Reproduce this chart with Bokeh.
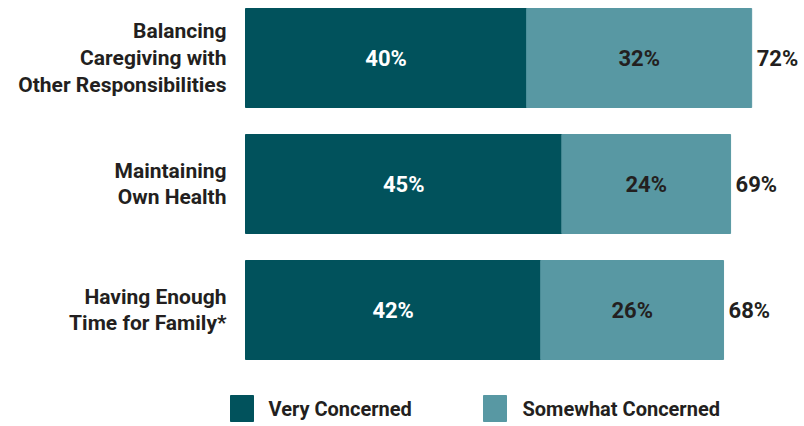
from bokeh.plotting import figure
from bokeh.models import Range1d, ColumnDataSource
from bokeh.core.properties import value
from bokeh.embed import file_html
from bokeh.resources import INLINE

categories = ["Balancing\nCaregiving with\nOther Responsibilities",
              "Maintaining\nOwn Health",
              "Having Enough\nTime for Family*"]
very = [40, 45, 42]
somewhat = [32, 24, 26]
series_names = ["Very Concerned", "Somewhat Concerned"]
colors = ["#01525C", "#5898A3"]
TEXT = "#231F20"
FONT = value("Roboto")

W, H = 804, 426
px_per = 7.03
x0_img = 245
pitch = 126.0
c0 = 57.5

p = figure(width=W, height=H, output_backend="svg", toolbar_location=None,
           x_range=Range1d(-x0_img / px_per, (W - x0_img) / px_per),
           y_range=Range1d((H - c0) / pitch, -c0 / pitch),
           min_border=0, outline_line_color=None)
p.axis.visible = False
p.grid.visible = False
p.background_fill_color = "white"
p.border_fill_color = "white"

idx = list(range(len(categories)))
total = [a + b for a, b in zip(very, somewhat)]
src = ColumnDataSource(dict(
    y=idx, very=very, somewhat=somewhat, total=total, cat=categories,
    vmid=[v / 2 for v in very], smid=[v + s / 2 for v, s in zip(very, somewhat)],
    vlab=[f"{v}%" for v in very], slab=[f"{s}%" for s in somewhat],
    tlab=[f"{t}%" for t in total], zero=[0] * len(idx),
))

bh = 99 / pitch
p.hbar(y="y", left="zero", right="very", height=bh, color=colors[0], source=src)
p.hbar(y="y", left="very", right="total", height=bh, color=colors[1], source=src)

VS = "22px"
p.text(x="vmid", y="y", text="vlab", source=src, text_align="center",
       text_baseline="middle", text_color="white", text_font=FONT,
       text_font_size=VS, text_font_style="bold")
p.text(x="smid", y="y", text="slab", source=src, text_align="center",
       text_baseline="middle", text_color=TEXT, text_font=FONT,
       text_font_size=VS, text_font_style="bold")
p.text(x="total", y="y", text="tlab", source=src, text_align="left",
       text_baseline="middle", text_color=TEXT, text_font=FONT,
       text_font_size=VS, text_font_style="bold", x_offset=5)
p.text(x=-19 / px_per, y="y", text="cat", source=src, text_align="right",
       text_baseline="middle", text_color=TEXT, text_font=FONT,
       text_font_size="21px", text_font_style="bold", text_line_height=1.12)

# legend
ly = (408 - c0) / pitch
lsrc = ColumnDataSource(dict(
    x=[(241.5 - 245) / px_per, (494.5 - 245) / px_per],
    tx=[(268 - 245) / px_per, (522 - 245) / px_per],
    y=[ly, ly], name=series_names, color=colors))
p.rect(x="x", y="y", width=23 / px_per, height=26 / pitch, color="color", source=lsrc)
p.text(x="tx", y="y", text="name", source=lsrc, text_align="left",
       text_baseline="middle", text_color=TEXT, text_font=FONT,
       text_font_size="20px", text_font_style="bold")

open("out.html", "w").write(file_html(p, INLINE))
